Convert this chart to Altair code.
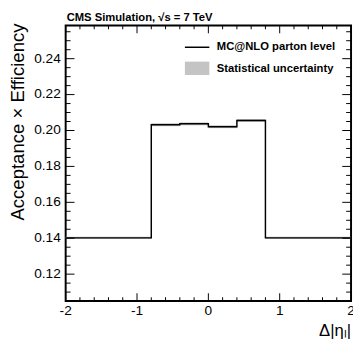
import altair as alt
import pandas as pd

# ---- data ----
edges = [-2.0, -0.8, -0.4, 0.0, 0.4, 0.8, 2.0]
values = [0.1402, 0.2032, 0.2037, 0.2021, 0.2056, 0.1402]
errors = [0.0006, 0.0008, 0.0008, 0.0008, 0.0008, 0.0006]

x_major = [-2, -1, 0, 1, 2]
x_labels = ["-2", "-1", "0", "1", "2"]
x_minor = [round(-2 + 0.2 * i, 2) for i in range(21) if i % 5 != 0]
y_major = [0.12, 0.14, 0.16, 0.18, 0.20, 0.22, 0.24]
y_labels = ["0.12", "0.14", "0.16", "0.18", "0.20", "0.22", "0.24"]
y_minor = [round(0.105 + 0.005 * i, 3) for i in range(31)]
y_minor = [v for v in y_minor if all(abs(v - m) > 1e-6 for m in y_major)]

title_text = "CMS Simulation, √s = 7 TeV"
legend_line = "MC@NLO parton level"
legend_band = "Statistical uncertainty"
x_title = "Δ|ηₗ|"
y_title = "Acceptance × Efficiency"

FONT = "Liberation Sans"
W, H = 292, 282

xs = alt.Scale(domain=[-2, 2], nice=False, zero=False)
ys = alt.Scale(domain=[0.105, 0.2585], nice=False, zero=False)

step_df = pd.DataFrame({"x": edges, "y": values + [values[-1]]})
band_df = pd.DataFrame({
    "x": edges[:-1], "hi": edges[1:],
    "y": [v - e for v, e in zip(values, errors)],
    "y2": [v + e for v, e in zip(values, errors)],
})

band = alt.Chart(band_df).mark_rect(fill="#b0b0b0", opacity=0.8).encode(
    x=alt.X("x:Q", scale=xs, axis=None), x2="hi",
    y=alt.Y("y:Q", scale=ys, axis=None), y2="y2",
)

line = alt.Chart(step_df).mark_line(interpolate="step-after", color="black", strokeWidth=1.5).encode(
    x=alt.X("x:Q", scale=xs, axis=None),
    y=alt.Y("y:Q", scale=ys, axis=None),
)


def xticks(vals, length):
    df = pd.DataFrame({"tx": vals})
    b = alt.Chart(df).mark_tick(orient="vertical", size=length, thickness=1, color="black", opacity=1).encode(
        x=alt.X("tx:Q", scale=xs, axis=None), y=alt.value(H - length / 2))
    t = alt.Chart(df).mark_tick(orient="vertical", size=length, thickness=1, color="black", opacity=1).encode(
        x=alt.X("tx:Q", scale=xs, axis=None), y=alt.value(length / 2))
    return [b, t]


def yticks(vals, length):
    df = pd.DataFrame({"ty": vals})
    l = alt.Chart(df).mark_tick(orient="horizontal", size=length, thickness=1, color="black", opacity=1).encode(
        y=alt.Y("ty:Q", scale=ys, axis=None), x=alt.value(length / 2))
    r = alt.Chart(df).mark_tick(orient="horizontal", size=length, thickness=1, color="black", opacity=1).encode(
        y=alt.Y("ty:Q", scale=ys, axis=None), x=alt.value(W - length / 2))
    return [l, r]


# tick labels as text marks placed through the scales
xlab_df = pd.DataFrame({"tx": x_major, "lab": x_labels})
ylab_df = pd.DataFrame({"ty": y_major, "lab": y_labels})
xlabels = alt.Chart(xlab_df).mark_text(font=FONT, fontSize=14, color="black",
                                       align="center", baseline="top").encode(
    x=alt.X("tx:Q", scale=xs, axis=None), y=alt.value(H + 3), text="lab:N")
ylabels = alt.Chart(ylab_df).mark_text(font=FONT, fontSize=14, color="black",
                                       align="right", baseline="middle").encode(
    y=alt.Y("ty:Q", scale=ys, axis=None), x=alt.value(-5), text="lab:N")

one = pd.DataFrame({"a": [0]})
xtitle = alt.Chart(one).mark_text(text=x_title, font=FONT, fontSize=17, color="black",
                                  align="right", baseline="alphabetic").encode(
    x=alt.value(W), y=alt.value(H + 36))
ytitle = alt.Chart(one).mark_text(text=y_title, font=FONT, fontSize=19, color="black",
                                  align="right", baseline="alphabetic", angle=270).encode(
    x=alt.value(-43), y=alt.value(-2))

leg_line = alt.Chart(one).mark_rule(color="black", strokeWidth=1.5).encode(
    x=alt.value(122), x2=alt.value(147), y=alt.value(22.3))
leg_box = alt.Chart(one).mark_rect(fill="#c4c4c4").encode(
    x=alt.value(122), x2=alt.value(147), y=alt.value(37), y2=alt.value(50.7))
leg_t1 = alt.Chart(one).mark_text(text=legend_line, align="left", baseline="alphabetic",
                                  font=FONT, fontSize=11.5, fontWeight="bold", color="black").encode(
    x=alt.value(154.7), y=alt.value(25.5))
leg_t2 = alt.Chart(one).mark_text(text=legend_band, align="left", baseline="alphabetic",
                                  font=FONT, fontSize=11.5, fontWeight="bold", color="black").encode(
    x=alt.value(154.7), y=alt.value(48))
title = alt.Chart(one).mark_text(text=title_text, align="left", baseline="alphabetic",
                                 font=FONT, fontSize=11.5, fontWeight="bold", color="black").encode(
    x=alt.value(1), y=alt.value(-5))

layers = [band, line] + xticks(x_major, 8) + xticks(x_minor, 4) + yticks(y_major, 9) + yticks(y_minor, 5) \
    + [xlabels, ylabels, xtitle, ytitle, leg_line, leg_box, leg_t1, leg_t2, title]

chart = alt.layer(*layers).properties(
    width=W, height=H,
    autosize=alt.AutoSizeParams(type="none"),
    padding={"left": 59, "top": 14, "right": 2, "bottom": 37},
).configure_view(stroke="black", strokeWidth=2)

chart.save("out.html", embed_options={"renderer": "svg", "actions": False})
